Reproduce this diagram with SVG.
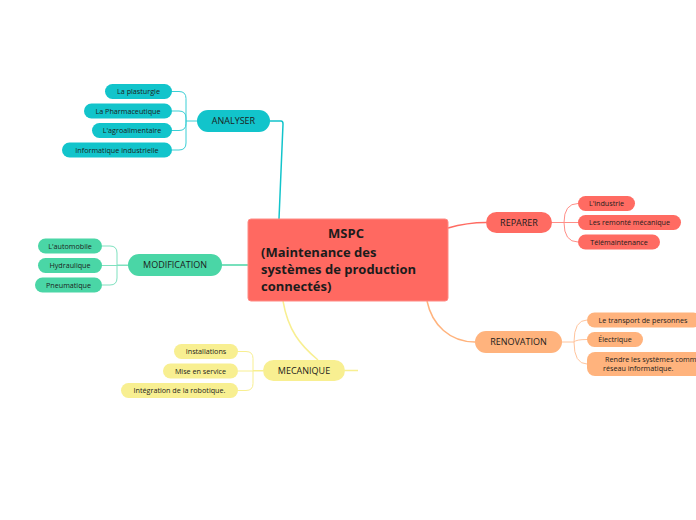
<svg xmlns="http://www.w3.org/2000/svg" width="696" height="520" viewBox="0 0 696 520">
<style>
text{font-family:"Open Sans","Noto Sans","Liberation Sans",sans-serif;fill:#1c1c1c}
.b{font-size:9px;text-anchor:middle}
.l{font-size:7.2px;text-anchor:middle}
.c{font-size:13px;font-weight:bold}
path{fill:none}
.teal{fill:#12C4CB}
.green{fill:#4AD6A6}
.red{fill:#FF6B62}
.orange{fill:#FFB37D}
.yellow{fill:#F8EF91}
</style>
<rect width="696" height="520" fill="#ffffff"/>
<g id="connectors">
<path d="M270,121 H281 Q283,121 283,124 L279,219" stroke="#12C4CB" stroke-width="1.5"/>
<path d="M172,91.5 H179 Q186,91.5 186,98.5 V121 H197 M172,111 H179 Q186,111 186,118 V121 M172,130.5 H179 Q186,130.5 186,123.5 V121 M172,150 H179 Q186,150 186,143 V121" stroke="#3ACFD5" stroke-width="1"/>
<path d="M222,265 H248" stroke="#4AD6A6" stroke-width="1.5"/>
<path d="M102,246 H110 Q117,246 117,253 V265 H128 M102,265.5 H128 M102,285 H110 Q117,285 117,278 V265" stroke="#7FE1BF" stroke-width="1"/>
<path d="M448,228 C462,224 472,222.5 486,222.5" stroke="#FF6B62" stroke-width="1.5"/>
<path d="M552,222.5 H564 Q564,203.5 578,203.5 M552,222.5 H578 M564,222.5 Q564,242 578,242" stroke="#FF8E87" stroke-width="1"/>
<path d="M427,301 C432,325 450,342 475,342" stroke="#FFB37D" stroke-width="1.5"/>
<path d="M562,342 H574 Q574,320 587,320 M574,342 Q576,339.5 587,339.5 M574,342 Q574,364 587,364" stroke="#FFC49C" stroke-width="1"/>
<path d="M283,301 C288,330 300,345 318,360 M345,370.5 H358" stroke="#F8EF91" stroke-width="1.5"/>
<path d="M238,351.5 H246 Q253,351.5 253,358.5 V370.5 H263 M238,371 H263 M238,390.5 H246 Q253,390.5 253,383.5 V370.5" stroke="#F8EF91" stroke-width="1"/>
</g>
<g id="center">
<rect x="248" y="219" width="200" height="82" rx="3" fill="#FF6961" stroke="#FF8A84" stroke-width="1"/>
<text class="c" x="346" y="238" text-anchor="middle">MSPC</text>
<text class="c" x="261" y="256.5">(Maintenance des</text>
<text class="c" x="261" y="273.5">systèmes de production</text>
<text class="c" x="261" y="290.5">connectés)</text>
</g>
<g id="analyser">
<rect class="teal" x="197" y="110" width="73" height="22" rx="11"/>
<text class="b" x="233.5" y="124.2">ANALYSER</text>
</g>
<g id="plasturgie"><rect class="teal" x="105" y="84" width="67" height="15" rx="7.5"/><text class="l" x="138.5" y="94.1">La plasturgie</text></g>
<g id="pharmaceutique"><rect class="teal" x="84" y="103.5" width="88" height="15" rx="7.5"/><text class="l" x="128" y="113.6">La Pharmaceutique</text></g>
<g id="agroalimentaire"><rect class="teal" x="92" y="123" width="80" height="15" rx="7.5"/><text class="l" x="132" y="133.1">L'agroalimentaire</text></g>
<g id="informatique"><rect class="teal" x="62" y="142.5" width="110" height="15" rx="7.5"/><text class="l" x="117" y="152.6">Informatique industrielle</text></g>
<g id="modification">
<rect class="green" x="128" y="254" width="94" height="22" rx="11"/>
<text class="b" x="175" y="268.2">MODIFICATION</text>
</g>
<g id="automobile"><rect class="green" x="38" y="238.5" width="64" height="15" rx="7.5"/><text class="l" x="70" y="248.6">L'automobile</text></g>
<g id="hydraulique"><rect class="green" x="38" y="258" width="64" height="15" rx="7.5"/><text class="l" x="70" y="268.1">Hydraulique</text></g>
<g id="pneumatique"><rect class="green" x="35" y="277.5" width="67" height="15" rx="7.5"/><text class="l" x="68.5" y="287.6">Pneumatique</text></g>
<g id="reparer">
<rect class="red" x="486" y="212" width="66" height="21" rx="10.5"/>
<text class="b" x="519" y="225.7">REPARER</text>
</g>
<g id="industrie"><rect class="red" x="578" y="196" width="57" height="15" rx="7.5"/><text class="l" x="606.5" y="206.1">L'industrie</text></g>
<g id="remonte"><rect class="red" x="578" y="215" width="103" height="15" rx="7.5"/><text class="l" x="629.5" y="225.1">Les remonté mécanique</text></g>
<g id="telemaintenance"><rect class="red" x="578" y="234.5" width="82" height="15" rx="7.5"/><text class="l" x="619" y="244.6">Télémaintenance</text></g>
<g id="renovation">
<rect class="orange" x="475" y="331" width="87" height="22" rx="11"/>
<text class="b" x="518.5" y="345.2">RENOVATION</text>
</g>
<g id="transport"><rect class="orange" x="587" y="312.5" width="114" height="15" rx="7.5"/><text class="l" x="643" y="322.6">Le transport de personnes</text></g>
<g id="electrique"><rect class="orange" x="587" y="332" width="56" height="15" rx="7.5"/><text class="l" x="615" y="342.1">Électrique</text></g>
<g id="rendre"><rect class="orange" x="587" y="352" width="130" height="24" rx="8"/><text x="605" y="361.5" style="font-size:7.2px">Rendre les systèmes comm</text><text x="603" y="370.5" style="font-size:7.2px">réseau informatique.</text></g>
<g id="mecanique">
<rect class="yellow" x="263" y="360" width="82" height="21" rx="10.5"/>
<text class="b" x="304" y="373.7">MECANIQUE</text>
</g>
<g id="installations"><rect class="yellow" x="174" y="344" width="64" height="15" rx="7.5"/><text class="l" x="206" y="354.1">Installations</text></g>
<g id="miseenservice"><rect class="yellow" x="163" y="363.5" width="75" height="15" rx="7.5"/><text class="l" x="200.5" y="373.6">Mise en service</text></g>
<g id="robotique"><rect class="yellow" x="121" y="383" width="117" height="15" rx="7.5"/><text class="l" x="179.5" y="393.1">Intégration de la robotique.</text></g>
</svg>
